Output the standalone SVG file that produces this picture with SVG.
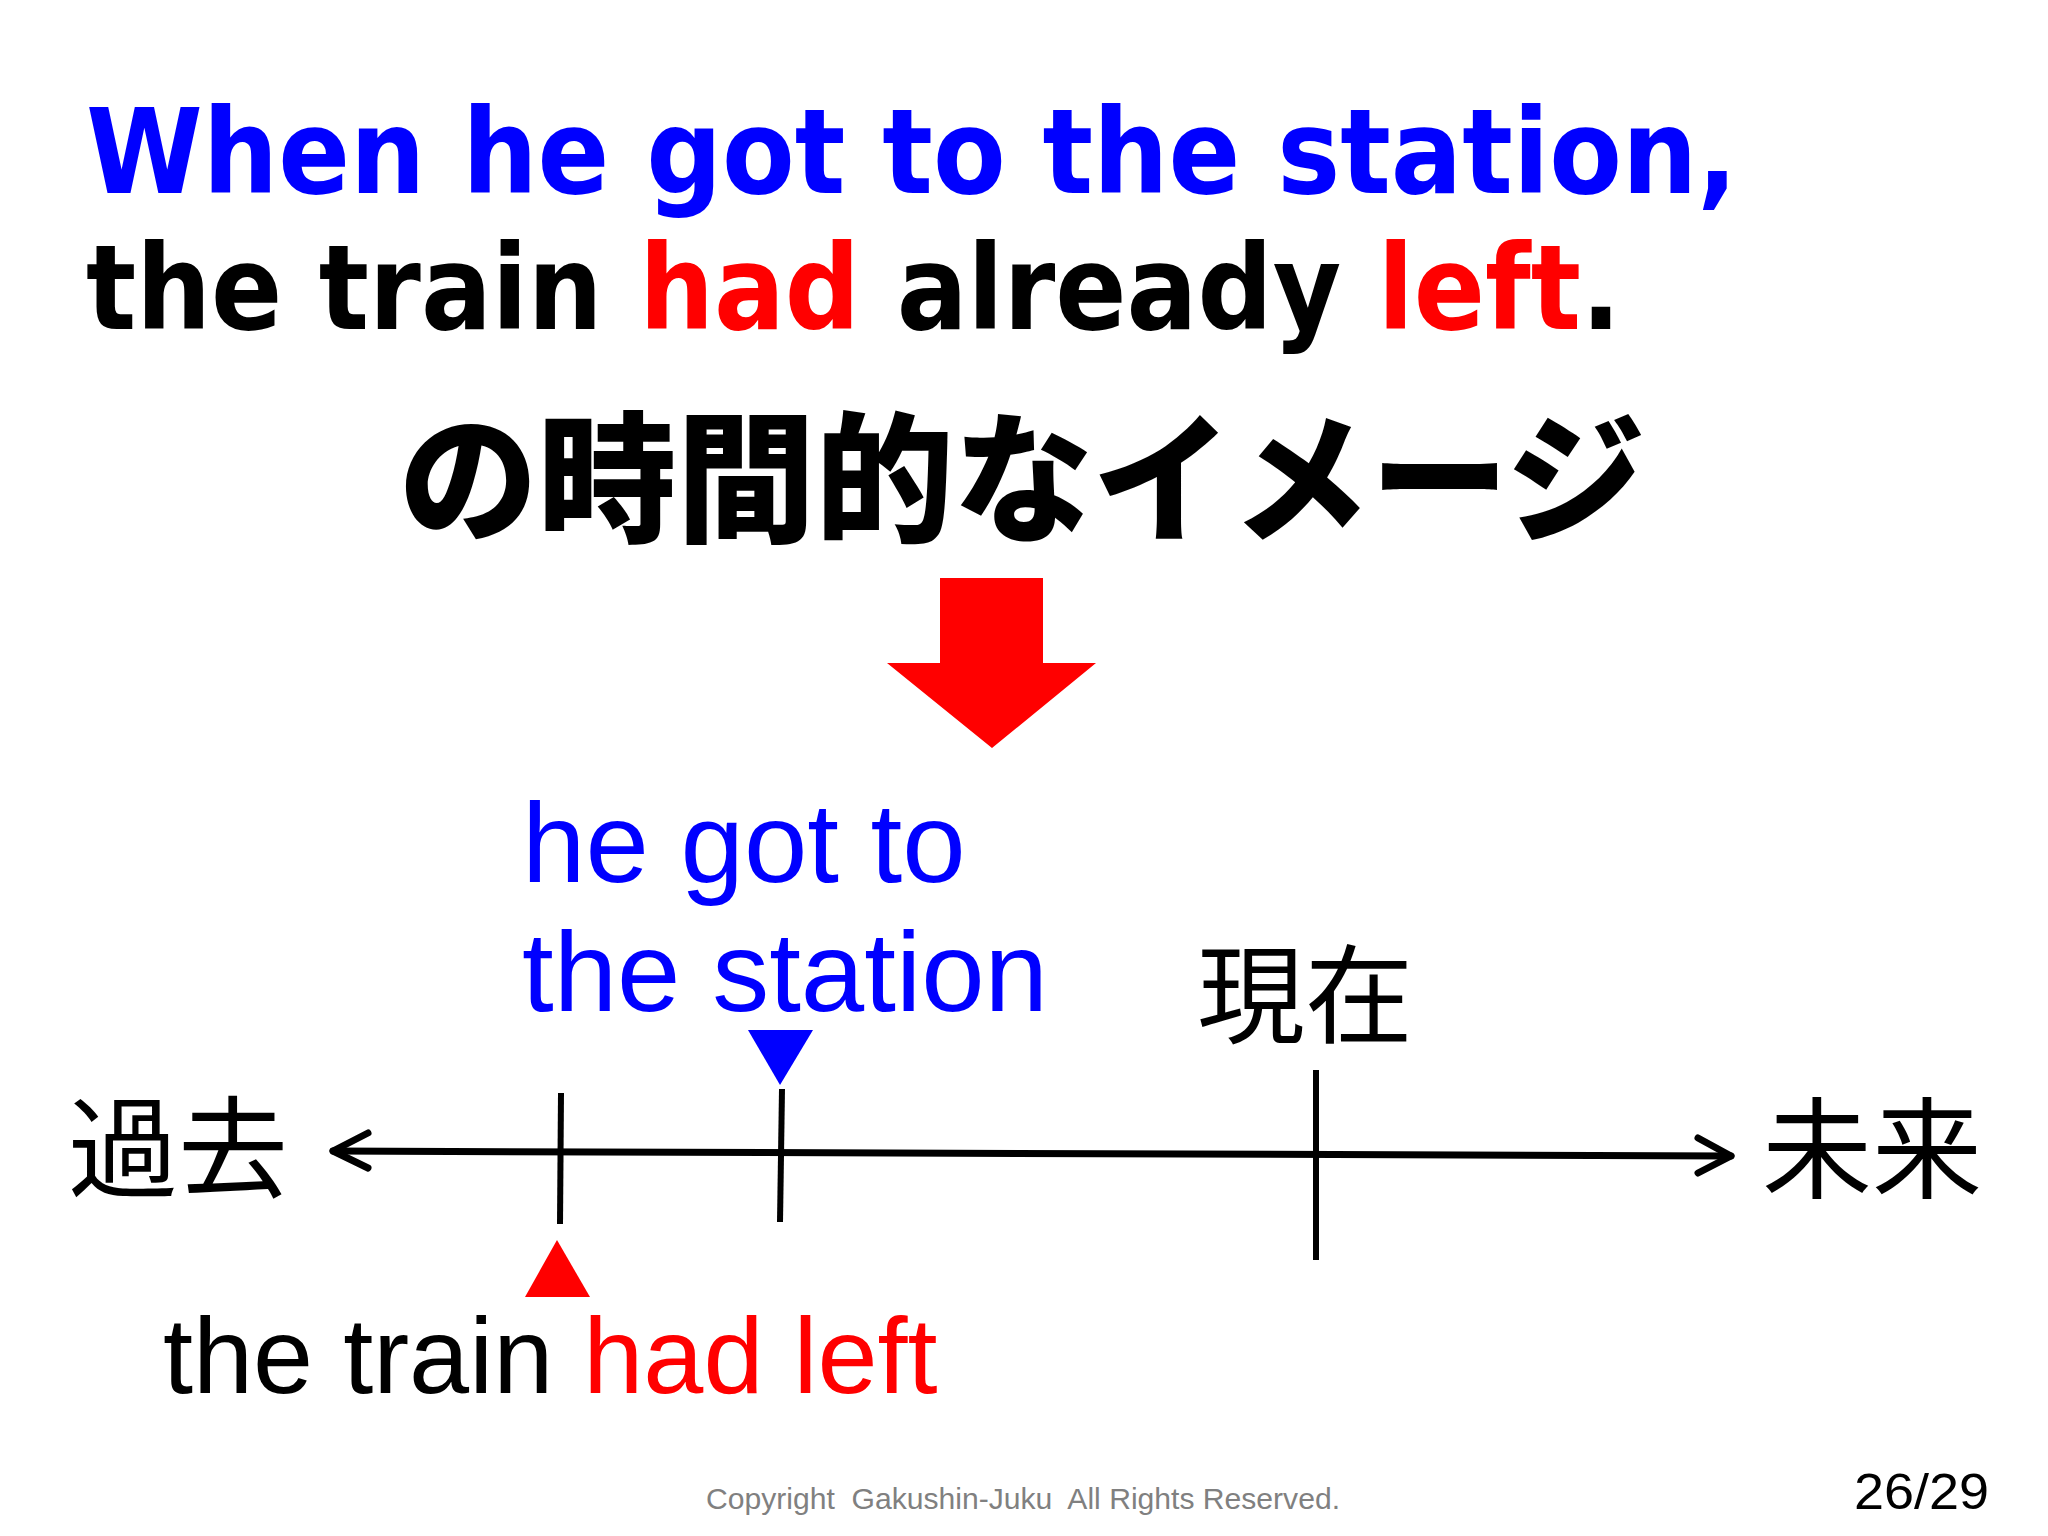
<svg xmlns="http://www.w3.org/2000/svg" width="2048" height="1536" viewBox="0 0 2048 1536">
<style>
.title{font-family:"DejaVu Sans",Verdana,sans-serif;font-weight:bold;font-size:117px}
.jp{font-family:"Noto Sans CJK JP",sans-serif}
.en{font-family:"Liberation Sans",Arial,sans-serif}
.blue{fill:#0000ff}
.red{fill:#ff0000}
.blk{fill:#000000}
.axis{stroke:#000;stroke-width:7;fill:none;stroke-linecap:round;stroke-linejoin:round}
.tick{stroke:#000;stroke-width:6;fill:none}
</style>
<rect width="2048" height="1536" fill="#ffffff"/>
<g id="title">
<g transform="translate(86,193) scale(0.905,1)">
<text class="title blue" x="0" y="0">When he got to the station,</text>
</g>
<g transform="translate(86,329) scale(0.898,1)">
<text class="title blk" x="0" y="0">the train <tspan class="red">had</tspan> already <tspan class="red">left</tspan>.</text>
</g>
</g>
<g id="subtitle">
<text class="jp blk" x="399" y="531" font-size="141" font-weight="900" textLength="1246" lengthAdjust="spacingAndGlyphs">の時間的なイメージ</text>
</g>
<g id="down-arrow">
<polygon points="940,578 1043,578 1043,663 1096,663 992,748 887,663 940,663" fill="#ff0000"/>
</g>
<g id="label-got">
<text class="en blue" x="522" y="882" font-size="114">he got to</text>
<text class="en blue" x="522" y="1011" font-size="114">the station</text>
<polygon points="748,1030 813,1030 780,1085" fill="#0000ff"/>
</g>
<g id="label-now">
<text class="jp blk" x="1197" y="1035" font-size="108">現在</text>
</g>
<g id="label-past">
<text class="jp blk" x="68" y="1189" font-size="110">過去</text>
</g>
<g id="label-future">
<text class="jp blk" x="1762" y="1190" font-size="110">未来</text>
</g>
<g id="label-left">
<polygon points="557,1240 590,1297 525,1297" fill="#ff0000"/>
<text class="en blk" x="163" y="1393" font-size="108">the train <tspan class="red">had left</tspan></text>
</g>
<g id="connectors">
<path class="axis" d="M333,1151 L1731,1156"/>
<polyline class="axis" points="368,1133 333,1151 368,1168"/>
<polyline class="axis" points="1698,1138 1731,1156 1698,1173"/>
<line class="tick" x1="561" y1="1093" x2="560" y2="1224"/>
<line class="tick" x1="782" y1="1089" x2="780" y2="1222"/>
<line class="tick" x1="1316" y1="1070" x2="1316" y2="1260"/>
</g>
<g id="footer">
<text class="en" x="706" y="1509" font-size="29" fill="#808080" xml:space="preserve" textLength="634" lengthAdjust="spacingAndGlyphs">Copyright  Gakushin-Juku  All Rights Reserved.</text>
<text class="en blk" x="1854" y="1509" font-size="50" textLength="135" lengthAdjust="spacingAndGlyphs">26/29</text>
</g>
</svg>
